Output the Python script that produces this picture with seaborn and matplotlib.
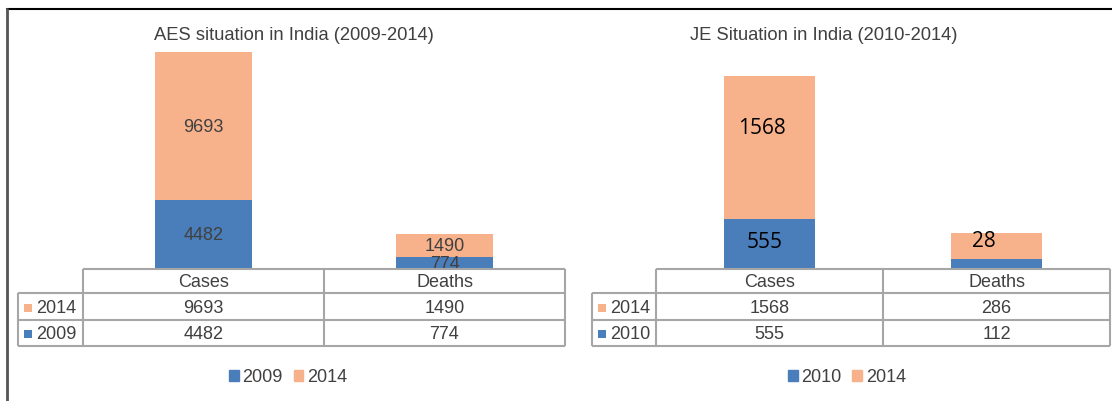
import matplotlib
matplotlib.use("Agg")
import matplotlib.pyplot as plt
import pandas as pd
import seaborn as sns
from matplotlib.patches import Rectangle

# ---- data ----
measures = ["Cases", "Deaths"]

aes_years = ["2009", "2014"]
aes_2009 = [4482, 774]
aes_2014 = [9693, 1490]

je_years = ["2010", "2014"]
je_2010 = [555, 112]
je_2014 = [1568, 286]
# text typed onto the JE bars (deaths 2014 is cut to "28", deaths 2010 has none)
je_low_labels = ["555", ""]
je_high_labels = ["1568", "28"]

BLUE = "#4a7ebb"
ORANGE = "#f7b28c"
TXT = "#404040"
GRID = "#a6a6a6"
W, H = 1112, 402
TABLE_TOP = 270

sns.set_theme(style="white")
plt.rcParams["font.family"] = ["Liberation Sans", "DejaVu Sans"]


def draw_panel(fig, ov, title, years, low, high, cols, px_per_unit,
               title_x, legend_x, low_labels=None, high_labels=None,
               offsets=None):
    lab_left, col_left, col_mid, right = cols

    ax = fig.add_axes([col_left / W, 1 - TABLE_TOP / H,
                       (right - col_left) / W, (TABLE_TOP - 40) / H])
    df = pd.DataFrame({"measure": measures, "low": low,
                       "total": [a + b for a, b in zip(low, high)]})
    sns.barplot(data=df, x="measure", y="total", color=ORANGE, width=0.405,
                saturation=1, linewidth=0, ax=ax)
    sns.barplot(data=df, x="measure", y="low", color=BLUE, width=0.405,
                saturation=1, linewidth=0, ax=ax)
    ax.set_xlim(-0.5, 1.5)
    ax.set_ylim(0, (TABLE_TOP - 40) / px_per_unit)
    ax.axis("off")

    # bar labels
    for i, (lo, hi) in enumerate(zip(low, high)):
        if low_labels is None:
            ax.text(i, lo / 2, str(lo), ha="center", va="center",
                    fontsize=13, color=TXT)
            ax.text(i, lo + hi / 2, str(hi), ha="center", va="center",
                    fontsize=13, color=TXT)
        else:
            (dxl, dyl), (dxh, dyh) = offsets[i]
            if low_labels[i]:
                ax.annotate(low_labels[i], (i, lo / 2), xytext=(dxl, dyl),
                            textcoords="offset pixels", ha="center",
                            va="center", fontsize=15, color="black",
                            family="Open Sans")
            if high_labels[i]:
                ax.annotate(high_labels[i], (i, lo + hi / 2), xytext=(dxh, dyh),
                            textcoords="offset pixels", ha="center",
                            va="center", fontsize=15, color="black",
                            family="Open Sans")

    fig.text(title_x / W, 1 - 36 / H, title, ha="center", va="center",
             fontsize=13.2, color=TXT)

    # data table under the bars
    rows_y = [TABLE_TOP, 294, 321, 347]
    kw = dict(color=GRID, lw=1.5, solid_capstyle="butt")
    ov.plot([col_left, right], [rows_y[0]] * 2, **kw)
    for y in rows_y[1:]:
        ov.plot([lab_left, right], [y, y], **kw)
    ov.plot([lab_left, lab_left], [rows_y[1], rows_y[3]], **kw)
    for x in (col_left, col_mid, right):
        ov.plot([x, x], [rows_y[0], rows_y[3]], **kw)

    centers = [(col_left + col_mid) / 2, (col_mid + right) / 2]
    for cx, m in zip(centers, measures):
        ov.text(cx, (rows_y[0] + rows_y[1]) / 2 + 1, m, ha="center",
                va="center", fontsize=13, color=TXT)
    table_rows = [(years[1], high, ORANGE), (years[0], low, BLUE)]
    for r, (yr, vals, c) in enumerate(table_rows):
        yc = (rows_y[r + 1] + rows_y[r + 2]) / 2 + 1
        ov.add_patch(Rectangle((lab_left + 6, yc - 4), 8, 8, color=c, lw=0))
        ov.text(lab_left + 18, yc, yr, ha="left", va="center", fontsize=13,
                color=TXT)
        for cx, v in zip(centers, vals):
            ov.text(cx, yc, str(v), ha="center", va="center", fontsize=13,
                    color=TXT)

    handles = [Rectangle((0, 0), 1, 1, color=BLUE),
               Rectangle((0, 0), 1, 1, color=ORANGE)]
    fig.legend(handles, years, loc="center",
               bbox_to_anchor=(legend_x / W, 1 - 378 / H), ncol=2,
               frameon=False, fontsize=13, labelcolor=TXT,
               handlelength=0.55, handleheight=0.55, handletextpad=0.2,
               columnspacing=0.6, borderpad=0)


fig = plt.figure(figsize=(W / 100, H / 100), dpi=100)
ov = fig.add_axes([0, 0, 1, 1], zorder=5)
ov.set_xlim(0, W)
ov.set_ylim(H, 0)
ov.axis("off")

draw_panel(fig, ov, "AES situation in India (2009-2014)", aes_years,
           aes_2009, aes_2014, (18, 83, 324, 565), 0.0153,
           title_x=294, legend_x=288)
draw_panel(fig, ov, "JE Situation in India (2010-2014)", je_years,
           je_2010, je_2014, (592, 656, 883, 1110), 0.0909,
           title_x=824, legend_x=847,
           low_labels=je_low_labels, high_labels=je_high_labels,
           offsets=[((-5, 2), (-8, 20)), ((0, 0), (-13, 5))])

# outer frame: top rule and left edge
ov.plot([7, W], [10, 10], color="black", lw=1.5)
ov.plot([7, 7], [10, H], color="#555555", lw=2)

fig.savefig("out.png", dpi=100)
